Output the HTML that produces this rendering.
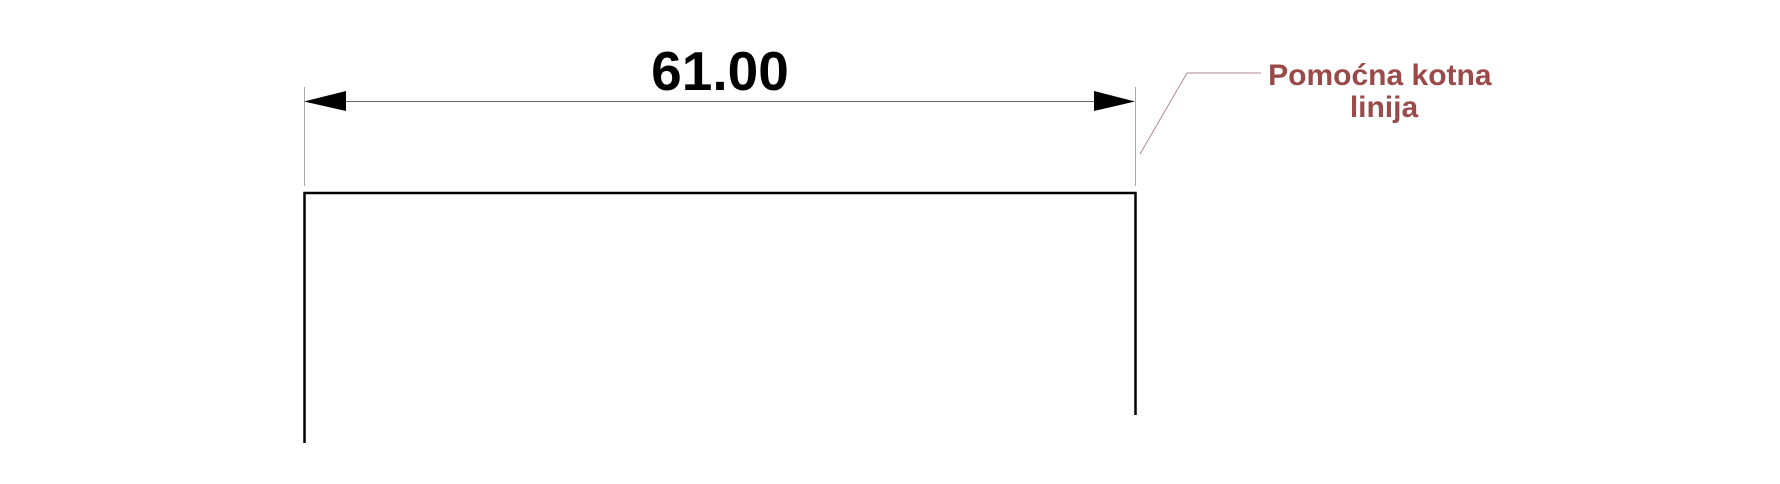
<!DOCTYPE html>
<html><head><meta charset="utf-8"><style>
html,body{margin:0;padding:0;background:#fff;}
svg{display:block;}
</style></head><body>
<svg width="1780" height="484" viewBox="0 0 1780 484" xmlns="http://www.w3.org/2000/svg">
<rect width="1780" height="484" fill="#fff"/>
<!-- extension lines -->
<line x1="304.5" y1="87" x2="304.5" y2="186" stroke="#aaa" stroke-width="1"/>
<line x1="1135.5" y1="87" x2="1135.5" y2="186" stroke="#aaa" stroke-width="1"/>
<!-- dimension line -->
<line x1="330" y1="101.5" x2="1110" y2="101.5" stroke="#666" stroke-width="1"/>
<polygon points="304,101.5 346,91 346,111" fill="#000"/>
<polygon points="1135,101.5 1094,91 1094,111" fill="#000"/>
<text x="720" y="90" text-anchor="middle" font-family="Liberation Sans, Arial, sans-serif" font-weight="bold" font-size="55" fill="#000">61.00</text>
<!-- profile -->
<polyline points="304.5,443 304.5,193 1135.5,193 1135.5,415" fill="none" stroke="#000" stroke-width="2.5"/>
<!-- leader -->
<polyline points="1140,154 1187,73 1261,73" fill="none" stroke="#b08890" stroke-width="1"/>
<text font-family="Liberation Sans, Arial, sans-serif" font-weight="bold" font-size="30" fill="#9b4a4a" text-anchor="middle">
<tspan x="1384" y="85">Pomoćna kotna</tspan>
<tspan x="1384" y="117">linija</tspan>
</text>
</svg>
</body></html>
